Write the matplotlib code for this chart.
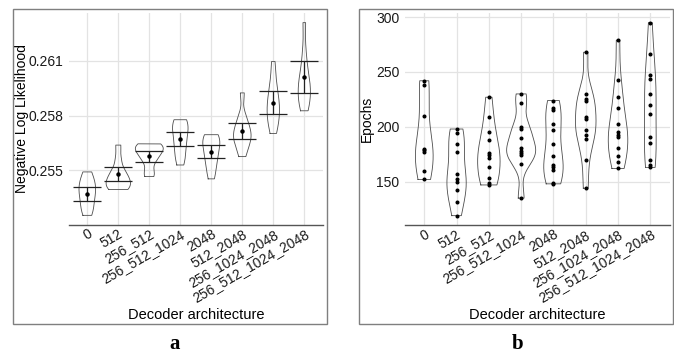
import numpy as np
import matplotlib
matplotlib.use('Agg')
import matplotlib.pyplot as plt
import matplotlib.transforms as mtransforms
from matplotlib.patches import Rectangle

plt.rcParams['font.family'] = ['Liberation Sans', 'DejaVu Sans']

archs = ['0', '512', '256_512', '256_512_1024', '2048', '512_2048',
         '256_1024_2048', '256_512_1024_2048']

# panel a: negative log likelihood per run (estimated from violin outlines)
nll_runs = [
    [0.25491, 0.2546, 0.2543, 0.2541, 0.2539, 0.2537, 0.2534, 0.2531, 0.2528, 0.25253],
    [0.25638, 0.2556, 0.2550, 0.2548, 0.2546, 0.2544, 0.2543, 0.2541, 0.2540, 0.25395],
    [0.25645, 0.2564, 0.2563, 0.2562, 0.2561, 0.2559, 0.2557, 0.2555, 0.2549, 0.25466],
    [0.25777, 0.2577, 0.2575, 0.2573, 0.2570, 0.2567, 0.2564, 0.2560, 0.2557, 0.25529],
    [0.25695, 0.2569, 0.2567, 0.2565, 0.2563, 0.2560, 0.2557, 0.2554, 0.2550, 0.25453],
    [0.25924, 0.2580, 0.2576, 0.2573, 0.2571, 0.2569, 0.2567, 0.2565, 0.2562, 0.25575],
    [0.26096, 0.2600, 0.2594, 0.2590, 0.2587, 0.2584, 0.2581, 0.2578, 0.2575, 0.25702],
    [0.26309, 0.2615, 0.2606, 0.2601, 0.2598, 0.2595, 0.2592, 0.2589, 0.2586, 0.25826],
]
nll_mean = [0.25369, 0.25482, 0.25576, 0.25673, 0.25602, 0.25716, 0.25869, 0.26011]
nll_lo = [0.25333, 0.25444, 0.25544, 0.25635, 0.25567, 0.25669, 0.25807, 0.25925]
nll_hi = [0.25406, 0.25518, 0.25605, 0.25711, 0.25638, 0.25760, 0.25935, 0.26098]

# panel b: epochs per run
epoch_runs = [
    [242, 238, 210, 180, 179, 177, 160, 152],
    [198, 194, 184, 177, 157, 152, 150, 142, 131, 119],
    [227, 209, 195, 188, 176, 174, 172, 163, 153, 149, 147],
    [230, 222, 200, 198, 190, 181, 178, 176, 174, 166, 135],
    [224, 217, 215, 203, 197, 184, 173, 165, 163, 161, 149, 148],
    [268, 230, 225, 224, 209, 207, 197, 193, 189, 170, 144],
    [279, 243, 227, 217, 203, 195, 193, 191, 181, 173, 168, 162],
    [295, 266, 247, 244, 230, 220, 212, 191, 185, 170, 165, 163],
]


def violins(ax, groups):
    # gaussian kde with R's bw.nrd0, trimmed to data range, scale = "area"
    dens = []
    for vals in groups:
        v = np.asarray(vals, dtype=float)
        n = len(v)
        iqr = np.subtract(*np.percentile(v, [75, 25]))
        bw = 0.9 * min(v.std(ddof=1), iqr / 1.34) * n ** -0.2
        grid = np.linspace(v.min(), v.max(), 300)
        d = np.exp(-0.5 * ((grid[:, None] - v[None, :]) / bw) ** 2).sum(1) / (n * bw * np.sqrt(2 * np.pi))
        dens.append((grid, d))
    dmax = max(d.max() for _, d in dens)
    for i, (grid, d) in enumerate(dens):
        w = 0.45 * d / dmax
        xs = np.concatenate([i - w, (i + w)[::-1], [i - w[0]]])
        ys = np.concatenate([grid, grid[::-1], [grid[0]]])
        ax.plot(xs, ys, color='#4d4d4d', lw=0.6, zorder=2)


def style(ax, ylabel, ticks, fmt, ylab_x):
    for s in ['top', 'right', 'left']:
        ax.spines[s].set_visible(False)
    ax.spines['bottom'].set_color('#555555')
    ax.spines['bottom'].set_linewidth(1.0)
    ax.set_xlim(-0.6, len(archs) - 0.4)
    ax.set_xticks(range(len(archs)))
    offset = mtransforms.ScaledTranslation(4 / 100, 0, ax.figure.dpi_scale_trans)
    ax.set_xticklabels(archs, rotation=30, ha='right', va='top', rotation_mode='anchor', fontsize=10)
    for lab in ax.get_xticklabels():
        lab.set_transform(lab.get_transform() + offset)
    ax.set_yticks(ticks)
    ax.set_yticklabels([fmt.format(t) for t in ticks], fontsize=10)
    ax.tick_params(length=0, pad=4, colors='#1a1a1a')
    ax.tick_params(axis='x', pad=1.5)
    ax.grid(True, color='#e3e3e3', lw=0.9, zorder=0)
    ax.set_axisbelow(True)
    ax.set_ylabel(ylabel, fontsize=10)
    ax.yaxis.set_label_coords(ylab_x, 0.5)
    ax.set_xlabel('Decoder architecture', fontsize=10.5, labelpad=2)


fig = plt.figure(figsize=(6.74, 3.53), dpi=100)
W, H = 674, 353

# panel a
ax1 = fig.add_axes([68.7 / W, 1 - 225 / H, 254.2 / W, 212 / H])
violins(ax1, nll_runs)
xpos = np.arange(len(archs))
ax1.hlines(nll_lo, xpos - 0.45, xpos + 0.45, color='#222222', lw=0.9, zorder=3)
ax1.hlines(nll_hi, xpos - 0.45, xpos + 0.45, color='#222222', lw=0.9, zorder=3)
ax1.vlines(xpos, nll_lo, nll_hi, color='#222222', lw=0.9, zorder=3)
ax1.plot(xpos, nll_mean, 'o', color='black', ms=2.2, zorder=4)
allv = np.concatenate([np.concatenate(nll_runs), nll_lo, nll_hi])
pad = 0.05 * (allv.max() - allv.min())
ax1.set_ylim(allv.min() - pad, allv.max() + pad)
style(ax1, 'Negative Log Likelihood', [0.255, 0.258, 0.261], '{:.3f}', (29 - 68.7) / 254.2)

# panel b
ax2 = fig.add_axes([404.9 / W, 1 - 225.3 / H, 264.8 / W, 212.3 / H])
violins(ax2, epoch_runs)
for i, vals in enumerate(epoch_runs):
    ax2.plot([i] * len(vals), vals, 'o', color='black', ms=1.9, zorder=4)
allv = np.concatenate(epoch_runs).astype(float)
pad = 0.05 * (allv.max() - allv.min())
ax2.set_ylim(allv.min() - pad, allv.max() + pad)
style(ax2, 'Epochs', [150, 200, 250, 300], '{:d}', (373.5 - 404.9) / 264.8)

# panel frames and letters
for x0, x1 in [(12.7, 327), (359, 673)]:
    fig.add_artist(Rectangle((x0 / W, 1 - 324 / H), (x1 - x0) / W, 315 / H,
                             transform=fig.transFigure, fill=False,
                             edgecolor='#7f7f7f', lw=1.0))
fig.text(175 / W, 1 - 349 / H, 'a', ha='center', va='baseline', fontsize=15,
         fontweight='bold', family='Liberation Serif')
fig.text(518 / W, 1 - 349 / H, 'b', ha='center', va='baseline', fontsize=15,
         fontweight='bold', family='Liberation Serif')

fig.savefig('out.png', dpi=100)
